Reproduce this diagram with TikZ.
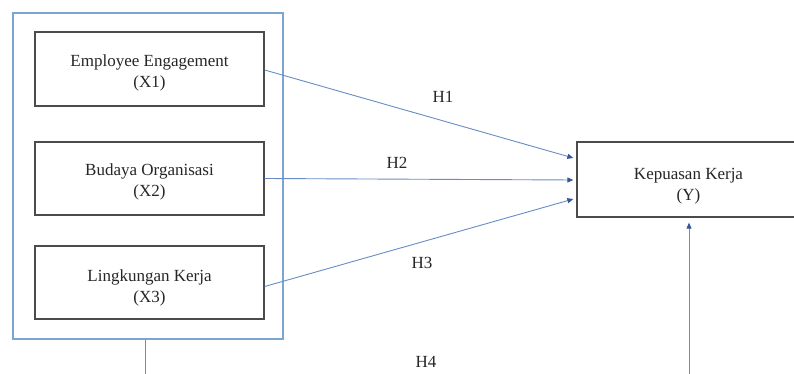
\documentclass[tikz,border=0pt]{standalone}
\usepackage{fontspec}
\setmainfont{Liberation Serif}
\newfontfamily\tnrfont{Liberation Serif}
\usetikzlibrary{arrows.meta,calc}
\definecolor{outerblue}{RGB}{125,165,210}
\definecolor{linkblue}{RGB}{105,140,200}
\definecolor{tipblue}{RGB}{55,85,150}
\definecolor{boxgray}{RGB}{75,75,75}
\begin{document}
\begin{tikzpicture}[x=1pt,y=-1pt,
  font=\tnrfont\fontsize{17}{21}\selectfont,
  varbox/.style={draw=boxgray, line width=1.3pt, minimum width=229pt, minimum height=74pt, inner sep=0pt},
  vtext/.style={align=center, inner sep=0pt, text=black!85},
  link/.style={draw=linkblue, line width=0.9pt, -{Triangle[length=6pt,width=5pt,fill=tipblue,color=tipblue]}},
  hlabel/.style={inner sep=0pt, text=black!85}]
\useasboundingbox (0,0) rectangle (794,374);
\clip (0,0) rectangle (794,374);
\fill[white] (0,0) rectangle (794,374);

\node[draw=outerblue, line width=2pt, minimum width=270pt, minimum height=326pt, inner sep=0pt] (grp) at (148.3,176.4) {};
\node[varbox] (x1) at (149.5,69) {};
\node[varbox, minimum height=73pt] (x2) at (149.5,178.5) {};
\node[varbox, minimum height=73pt] (x3) at (149.5,282.5) {};
\node[varbox, minimum width=223pt, minimum height=75pt] (y) at (688.5,179.5) {};

\node[vtext] (x1t) at ($(x1)+(0,4)$) {Employee Engagement\\(X1)};
\node[vtext] (x2t) at ($(x2)+(0,3.5)$) {Budaya Organisasi\\(X2)};
\node[vtext] (x3t) at ($(x3)+(0,5)$) {Lingkungan Kerja\\(X3)};
\node[vtext] (yt) at ($(y)+(0,6.5)$) {Kepuasan Kerja\\(Y)};

\coordinate (t1) at ($(y.west)+(-3,-21.5)$);
\coordinate (t2) at ($(y.west)+(-3,0.5)$);
\coordinate (t3) at ($(y.west)+(-3,19.5)$);
\coordinate (s1) at ($(x1.east)+(0,1)$);
\coordinate (s3) at ($(x3.east)+(0,4)$);
\draw[link] (s1) -- (t1);
\draw[link] (x2.east) -- (t2);
\draw[link] (s3) -- (t3);

\coordinate (b1) at (145,374);
\draw[linkblue, line width=1pt] (grp.south -| b1) -- (b1);
\coordinate (b2) at (689,374);
\coordinate (t4) at ($(y.south)+(0.5,5)$);
\draw[link] (b2) -- (t4);

\node[hlabel] (h1) at (443,97) {H1};
\node[hlabel] (h2) at (397,163) {H2};
\node[hlabel] (h3) at (422,263) {H3};
\node[hlabel] (h4) at (426,362) {H4};
\end{tikzpicture}
\end{document}
